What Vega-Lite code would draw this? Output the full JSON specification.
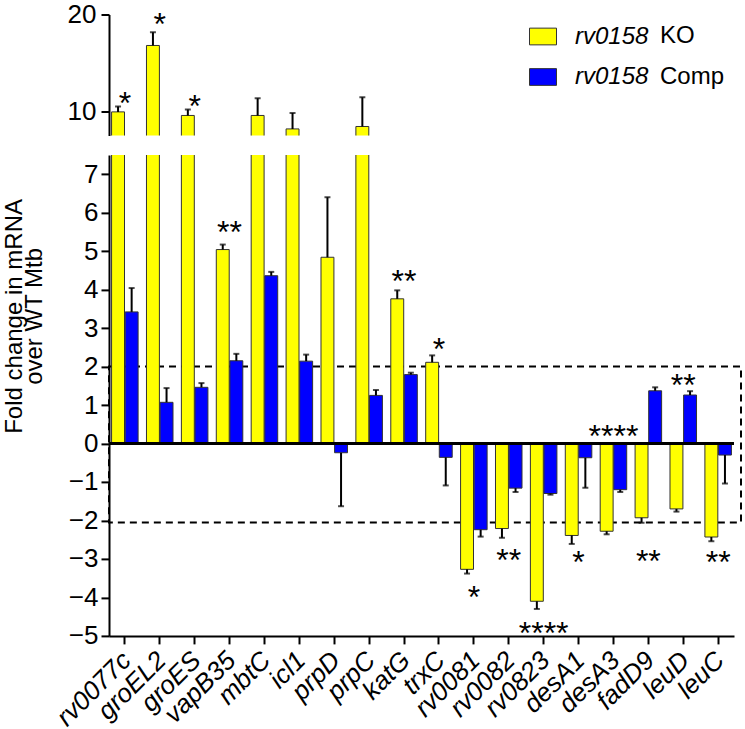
{
  "$schema": "https://vega.github.io/schema/vega-lite/v6.json",
  "padding": {"left": 2, "top": 1.5, "right": 0, "bottom": 0},
  "datasets": {
    "bars": [
      {"gene": "rv0077c", "group": "KO", "value": 9.94, "err": 10.5},
      {"gene": "rv0077c", "group": "Comp", "value": 3.42, "err": 4.04},
      {"gene": "groEL2", "group": "KO", "value": 16.8, "err": 18.17},
      {"gene": "groEL2", "group": "Comp", "value": 1.07, "err": 1.44},
      {"gene": "groES", "group": "KO", "value": 9.57, "err": 10.19},
      {"gene": "groES", "group": "Comp", "value": 1.46, "err": 1.57},
      {"gene": "vapB35", "group": "KO", "value": 5.04, "err": 5.17},
      {"gene": "vapB35", "group": "Comp", "value": 2.15, "err": 2.33},
      {"gene": "mbtC", "group": "KO", "value": 9.57, "err": 11.35},
      {"gene": "mbtC", "group": "Comp", "value": 4.36, "err": 4.46},
      {"gene": "icl1", "group": "KO", "value": 8.18, "err": 9.83},
      {"gene": "icl1", "group": "Comp", "value": 2.14, "err": 2.31},
      {"gene": "prpD", "group": "KO", "value": 4.84, "err": 6.4},
      {"gene": "prpD", "group": "Comp", "value": -0.24, "err": -1.63},
      {"gene": "prpC", "group": "KO", "value": 8.43, "err": 11.46},
      {"gene": "prpC", "group": "Comp", "value": 1.25, "err": 1.39},
      {"gene": "katG", "group": "KO", "value": 3.76, "err": 3.98},
      {"gene": "katG", "group": "Comp", "value": 1.79, "err": 1.84},
      {"gene": "trxC", "group": "KO", "value": 2.11, "err": 2.29},
      {"gene": "trxC", "group": "Comp", "value": -0.36, "err": -1.09},
      {"gene": "rv0081", "group": "KO", "value": -3.27, "err": -3.38},
      {"gene": "rv0081", "group": "Comp", "value": -2.24, "err": -2.42},
      {"gene": "rv0082", "group": "KO", "value": -2.21, "err": -2.45},
      {"gene": "rv0082", "group": "Comp", "value": -1.16, "err": -1.26},
      {"gene": "rv0823", "group": "KO", "value": -4.1, "err": -4.3},
      {"gene": "rv0823", "group": "Comp", "value": -1.3, "err": -1.33},
      {"gene": "desA1", "group": "KO", "value": -2.39, "err": -2.61},
      {"gene": "desA1", "group": "Comp", "value": -0.37, "err": -1.15},
      {"gene": "desA3", "group": "KO", "value": -2.28, "err": -2.36},
      {"gene": "desA3", "group": "Comp", "value": -1.2, "err": -1.26},
      {"gene": "fadD9", "group": "KO", "value": -1.93, "err": -2.06},
      {"gene": "fadD9", "group": "Comp", "value": 1.37, "err": 1.46},
      {"gene": "leuD", "group": "KO", "value": -1.7, "err": -1.77},
      {"gene": "leuD", "group": "Comp", "value": 1.26, "err": 1.36},
      {"gene": "leuC", "group": "KO", "value": -2.43, "err": -2.54},
      {"gene": "leuC", "group": "Comp", "value": -0.3, "err": -1.04}
    ],
    "stars": [
      {"gene": "rv0077c", "panel": "top", "y": 11.56, "label": "*"},
      {"gene": "groEL2", "panel": "top", "y": 19.72, "label": "*"},
      {"gene": "groES", "panel": "top", "y": 11.28, "label": "*"},
      {"gene": "vapB35", "panel": "bottom", "y": 5.67, "label": "**"},
      {"gene": "katG", "panel": "bottom", "y": 4.4, "label": "**"},
      {"gene": "trxC", "panel": "bottom", "y": 2.64, "label": "*"},
      {"gene": "rv0081", "panel": "bottom", "y": -3.8, "label": "*"},
      {"gene": "rv0082", "panel": "bottom", "y": -2.85, "label": "**"},
      {"gene": "rv0823", "panel": "bottom", "y": -4.75, "label": "****"},
      {"gene": "desA1", "panel": "bottom", "y": -2.91, "label": "*"},
      {"gene": "desA3", "panel": "bottom", "y": 0.38, "label": "****"},
      {"gene": "fadD9", "panel": "bottom", "y": -2.87, "label": "**"},
      {"gene": "leuD", "panel": "bottom", "y": 1.7, "label": "**"},
      {"gene": "leuC", "panel": "bottom", "y": -2.89, "label": "**"}
    ],
    "box": [{"lo": -2.05, "hi": 2}]
  },
  "bounds": "flush",
  "spacing": 19.4,
  "vconcat": [
    {
      "width": 625,
      "height": 121,
      "layer": [
        {
          "data": {"name": "bars"},
          "mark": {"type": "bar", "stroke": "#333333", "strokeWidth": 1, "clip": true},
          "encoding": {
            "x": {"field": "gene", "type": "nominal", "sort": null, "axis": null,
                  "scale": {"paddingInner": 0.24, "paddingOuter": 0.074}},
            "xOffset": {"field": "group", "type": "nominal", "sort": ["KO", "Comp"], "scale": {"paddingInner": 0.05}},
            "y": {"field": "value", "type": "quantitative",
                  "scale": {"domain": [7.5, 20], "nice": false, "zero": false},
                  "axis": {"values": [10, 20], "title": null, "tickSize": 8, "labelPadding": 5, "labelFontSize": 26}},
            "color": {"field": "group", "type": "nominal",
                      "scale": {"domain": ["KO", "Comp"], "range": ["#FFFF00", "#0000FF"]},
                      "legend": {"orient": "none", "legendX": 420, "legendY": 8, "title": null, "padding": 0,
                                 "symbolType": "M-1,-0.62L1,-0.62L1,0.62L-1,0.62Z", "symbolSize": 729,
                                 "symbolStrokeColor": "#333333", "symbolStrokeWidth": 1, "symbolOpacity": 1,
                                 "labelExpr": "'rv0158'", "labelFontStyle": "italic", "labelFontSize": 24,
                                 "labelOffset": 18, "rowPadding": 14.5, "labelColor": "black"}},
            "opacity": {"field": "group", "type": "nominal", "sort": ["KO", "Comp"],
                        "scale": {"type": "ordinal", "range": [1, 1]},
                        "legend": {"orient": "none", "legendX": 506, "legendY": 8, "title": null, "padding": 0,
                                   "symbolType": "M-1,-0.62L1,-0.62L1,0.62L-1,0.62Z", "symbolSize": 729,
                                   "symbolFillColor": "transparent", "symbolStrokeColor": "transparent",
                                   "symbolOpacity": 0, "symbolStrokeWidth": 0,
                                   "labelFontSize": 24, "labelOffset": 18, "rowPadding": 14.5, "labelColor": "black"}}
          }
        },
        {
          "data": {"name": "bars"},
          "mark": {"type": "rule", "color": "black", "strokeWidth": 2, "clip": true},
          "encoding": {
            "x": {"field": "gene", "type": "nominal", "sort": null},
            "xOffset": {"field": "group", "type": "nominal", "sort": ["KO", "Comp"]},
            "y": {"field": "value", "type": "quantitative"},
            "y2": {"field": "err"}
          }
        },
        {
          "data": {"name": "bars"},
          "mark": {"type": "tick", "color": "black", "size": 6, "thickness": 2, "orient": "horizontal", "clip": true},
          "encoding": {
            "x": {"field": "gene", "type": "nominal", "sort": null},
            "xOffset": {"field": "group", "type": "nominal", "sort": ["KO", "Comp"]},
            "y": {"field": "err", "type": "quantitative"}
          }
        },
        {
          "data": {"name": "stars"},
          "transform": [{"filter": "datum.panel == 'top'"}],
          "mark": {"type": "text", "fontSize": 32, "baseline": "alphabetic", "dy": 18, "color": "black"},
          "encoding": {
            "x": {"field": "gene", "type": "nominal", "sort": null},
            "y": {"field": "y", "type": "quantitative"},
            "text": {"field": "label"}
          }
        }
      ]
    },
    {
      "width": 625,
      "height": 481,
      "layer": [
        {
          "data": {"name": "box"},
          "mark": {"type": "rect", "fill": null, "stroke": "black", "strokeWidth": 2, "strokeDash": [7, 5], "x2Offset": 7},
          "encoding": {
            "x": {"value": 0},
            "x2": {"value": "width"},
            "y": {"field": "hi", "type": "quantitative"},
            "y2": {"field": "lo"}
          }
        },
        {
          "data": {"name": "bars"},
          "mark": {"type": "bar", "stroke": "#333333", "strokeWidth": 1, "clip": true},
          "encoding": {
            "x": {"field": "gene", "type": "nominal", "sort": null,
                  "scale": {"paddingInner": 0.24, "paddingOuter": 0.074},
                  "axis": {"title": null, "labelAngle": -45, "labelAlign": "right", "labelBaseline": "middle",
                           "labelFontStyle": "italic", "labelFontSize": 26, "tickSize": 8, "labelPadding": 12, "labelOffset": 2}},
            "xOffset": {"field": "group", "type": "nominal", "sort": ["KO", "Comp"], "scale": {"paddingInner": 0.05}},
            "y": {"field": "value", "type": "quantitative",
                  "scale": {"domain": [-5, 7.5], "nice": false},
                  "axis": {"values": [-5, -4, -3, -2, -1, 0, 1, 2, 3, 4, 5, 6, 7], "labelOverlap": false,
                           "tickSize": 8, "labelPadding": 3, "labelFontSize": 26,
                           "title": ["Fold change  in mRNA", "over WT Mtb"], "titleFontSize": 24, "titleFontWeight": "normal",
                           "titleLineHeight": 20, "titleX": -88, "titleY": 161, "titleAngle": -90, "titleAlign": "center",
                           "titleBaseline": "alphabetic"}},
            "color": {"field": "group", "type": "nominal",
                      "scale": {"domain": ["KO", "Comp"], "range": ["#FFFF00", "#0000FF"]}, "legend": null}
          }
        },
        {
          "data": {"name": "bars"},
          "mark": {"type": "rule", "color": "black", "strokeWidth": 2},
          "encoding": {"y": {"datum": 0, "type": "quantitative"}}
        },
        {
          "data": {"name": "bars"},
          "mark": {"type": "rule", "color": "black", "strokeWidth": 2, "clip": true},
          "encoding": {
            "x": {"field": "gene", "type": "nominal", "sort": null},
            "xOffset": {"field": "group", "type": "nominal", "sort": ["KO", "Comp"]},
            "y": {"field": "value", "type": "quantitative"},
            "y2": {"field": "err"}
          }
        },
        {
          "data": {"name": "bars"},
          "mark": {"type": "tick", "color": "black", "size": 6, "thickness": 2, "orient": "horizontal", "clip": true},
          "encoding": {
            "x": {"field": "gene", "type": "nominal", "sort": null},
            "xOffset": {"field": "group", "type": "nominal", "sort": ["KO", "Comp"]},
            "y": {"field": "err", "type": "quantitative"}
          }
        },
        {
          "data": {"name": "stars"},
          "transform": [{"filter": "datum.panel == 'bottom'"}],
          "mark": {"type": "text", "fontSize": 32, "baseline": "alphabetic", "dy": 18, "color": "black"},
          "encoding": {
            "x": {"field": "gene", "type": "nominal", "sort": null},
            "y": {"field": "y", "type": "quantitative"},
            "text": {"field": "label"}
          }
        }
      ]
    }
  ],
  "resolve": {
    "scale": {"y": "independent", "color": "independent", "opacity": "independent"},
    "legend": {"color": "independent", "opacity": "independent"}
  },
  "config": {
    "view": {"stroke": null},
    "font": "Liberation Sans",
    "axis": {"domainColor": "black", "domainWidth": 2, "tickColor": "black", "tickWidth": 2, "grid": false,
             "labelColor": "black", "labelFontSize": 25, "labelOverlap": false, "titleColor": "black"}
  }
}
